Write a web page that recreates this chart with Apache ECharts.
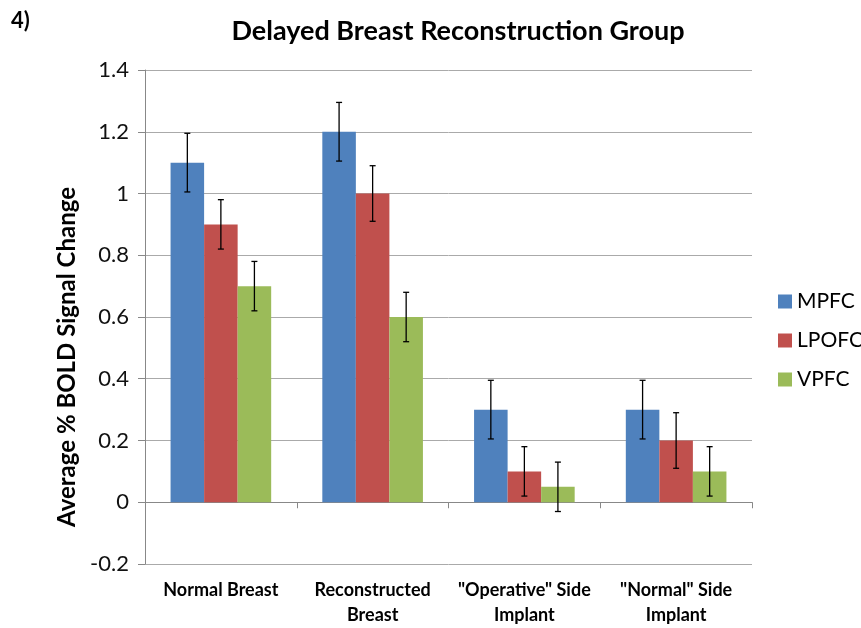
<!DOCTYPE html>
<html>
<head>
<meta charset="utf-8">
<script src="https://cdn.jsdelivr.net/npm/echarts@6/dist/echarts.min.js"></script>
<style>
  html, body { margin: 0; padding: 0; background: #fff; }
  #main { width: 861px; height: 628px; }
</style>
</head>
<body>
<div id="main"></div>
<script>
'use strict';
var categories = ['Normal Breast', 'Reconstructed\nBreast', '"Operative" Side\nImplant', '"Normal" Side\nImplant'];
var seriesNames = ['MPFC', 'LPOFC', 'VPFC'];
var mpfc = [1.1, 1.2, 0.3, 0.3];
var lpofc = [0.9, 1.0, 0.1, 0.2];
var vpfc = [0.7, 0.6, 0.05, 0.1];
var mpfcErr = [0.095, 0.095, 0.095, 0.095];
var lpofcErr = [0.08, 0.09, 0.08, 0.09];
var vpfcErr = [0.08, 0.08, 0.08, 0.08];
var yTicks = [-0.2, 0, 0.2, 0.4, 0.6, 0.8, 1, 1.2, 1.4];

var colors = ['#4F81BD', '#C0504D', '#9BBB59'];
var values = [mpfc, lpofc, vpfc];
var errs = [mpfcErr, lpofcErr, vpfcErr];
var GAP = 0.337; // excel gap width 150%
var FONT = 'Lato';

function errorRender(idx) {
	return function (params, api) {
		var c = api.value(0);
		var lo = api.coord([c, api.value(1)]);
		var hi = api.coord([c, api.value(2)]);
		var band = api.size([1, 0])[0];
		var barW = band * (1 - GAP) / 3;
		var x = lo[0] + (idx - 1) * barW;
		var cap = 3;
		var st = { stroke: '#000', lineWidth: 1.3 };
		return {
			type: 'group',
			children: [
				{ type: 'line', shape: { x1: x, y1: lo[1], x2: x, y2: hi[1] }, style: st },
				{ type: 'line', shape: { x1: x - cap, y1: lo[1], x2: x + cap, y2: lo[1] }, style: st },
				{ type: 'line', shape: { x1: x - cap, y1: hi[1], x2: x + cap, y2: hi[1] }, style: st }
			]
		};
	};
}

var series = [];
seriesNames.forEach(function (name, i) {
	series.push({
		name: name,
		type: 'bar',
		data: values[i],
		itemStyle: { color: colors[i] },
		barGap: '0%',
		barCategoryGap: (GAP * 100) + '%',
		silent: true
	});
});
seriesNames.forEach(function (name, i) {
	series.push({
		name: name + ' error',
		type: 'custom',
		renderItem: errorRender(i),
		z: 10,
		silent: true,
		data: values[i].map(function (v, k) {
			return [k, v - errs[i][k], v + errs[i][k]];
		})
	});
});

var chart = echarts.init(document.getElementById('main'));
chart.setOption({
	animation: false,
	textStyle: { fontFamily: FONT },
	title: [{
		text: 'Delayed Breast Reconstruction Group',
		left: 453,
		textAlign: 'center',
		top: 13,
		textStyle: { fontFamily: FONT, fontSize: 27, fontWeight: 'bold', color: '#000' }
	}, {
		text: '4)',
		left: 6,
		top: 5,
		textStyle: { fontFamily: FONT, fontSize: 22, fontWeight: 'bold', color: '#000' }
	}],
	legend: {
		data: seriesNames,
		orient: 'vertical',
		left: 773,
		top: 286,
		itemWidth: 14,
		itemHeight: 14,
		itemGap: 18,
		icon: 'rect',
		textStyle: { fontFamily: FONT, fontSize: 21, color: '#000' }
	},
	grid: { left: 145, right: 109, top: 70, bottom: 61, containLabel: false },
	xAxis: [{
		type: 'category',
		data: categories,
		position: 'bottom',
		axisLine: { onZero: true, lineStyle: { color: '#888', width: 1 } },
		axisTick: { show: true, length: 6, lineStyle: { color: '#888' } },
		axisLabel: { show: false },
		splitLine: { show: false }
	}, {
		type: 'category',
		data: categories,
		position: 'bottom',
		axisLine: { show: false, onZero: false },
		axisTick: { show: false },
		axisLabel: {
			interval: 0,
			margin: 14,
			fontFamily: FONT,
			fontSize: 18,
			fontWeight: 'bold',
			color: '#000',
			lineHeight: 25
		}
	}],
	yAxis: {
		type: 'value',
		min: yTicks[0],
		max: yTicks[yTicks.length - 1],
		interval: 0.2,
		name: 'Average % BOLD Signal Change',
		nameLocation: 'middle',
		nameGap: 64,
		nameTextStyle: {
			fontFamily: FONT, fontSize: 24, fontWeight: 'bold', color: '#000',
			padding: [0, 80, 0, 0]
		},
		axisLine: { show: true, lineStyle: { color: '#888' } },
		axisTick: { show: true, length: 7, lineStyle: { color: '#888' } },
		axisLabel: {
			margin: 16,
			fontFamily: FONT,
			fontSize: 22,
			color: '#111',
			formatter: function (v) { return String(Math.round(v * 10) / 10); }
		},
		splitLine: { show: true, lineStyle: { color: '#aaa', width: 1 } }
	},
	series: series
});
</script>
</body>
</html>
